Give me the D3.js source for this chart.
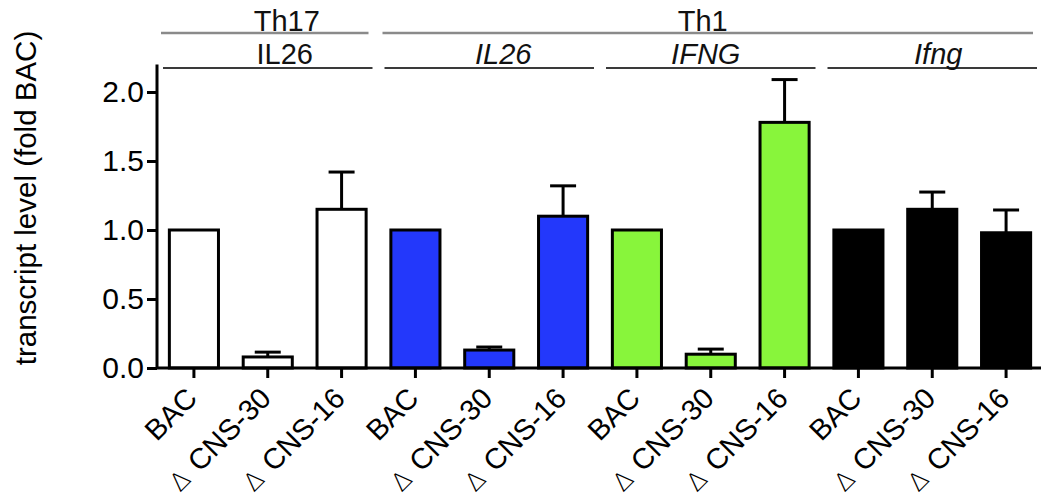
<!DOCTYPE html>
<html>
<head>
<meta charset="utf-8">
<script src="https://cdn.jsdelivr.net/npm/d3@7"></script>
<style>
  html, body { margin: 0; padding: 0; background: #fff; }
  svg { display: block; font-family: "Liberation Sans", Arial, Helvetica, sans-serif; }
</style>
</head>
<body>
<svg id="chart" width="1050" height="500"></svg>
<script>
// ---------------- data ----------------
const conditions = ["BAC", "\u0394 CNS-30", "\u0394 CNS-16"];
const genes = ["IL26", "IL26", "IFNG", "Ifng"];
const geneItalic = [false, true, true, true];
const cellTypes = ["Th17", "Th1"];
const cellTypeGroups = [[0, 0], [1, 3]];           // gene-group index span per cell type
const barColors = ["#ffffff", "#2338fb", "#88f53b", "#000000"];
const values = [1.00, 0.08, 1.15,  1.00, 0.13, 1.10,  1.00, 0.10, 1.78,  1.00, 1.15, 0.98];
const errUpper = [1.00, 0.115, 1.42, 1.00, 0.152, 1.32, 1.00, 0.137, 2.09, 1.00, 1.275, 1.145];
const yTicks = [0.0, 0.5, 1.0, 1.5, 2.0];
const yTitle = "transcript level (fold BAC)";

// ---------------- layout ----------------
const svg = d3.select("#chart");
const plotLeft = 157, plotRight = 1043, plotTop = 64.4, plotBottom = 368;
const tickFont = 30, xFont = 29, headFont = 29, titleFont = 29.5;

const bars = values.map((v, i) => ({
  key: "b" + i,
  label: conditions[i % 3],
  group: Math.floor(i / 3),
  value: v,
  err: errUpper[i]
}));

const x = d3.scaleBand()
  .domain(bars.map(d => d.key))
  .range([plotLeft, plotRight])
  .paddingInner(0.335)
  .paddingOuter(0.1675);

const y = d3.scaleLinear().domain([0, 2.2]).range([plotBottom, plotTop]);

// bars
svg.append("g").selectAll("rect").data(bars).join("rect")
  .attr("x", d => x(d.key))
  .attr("y", d => y(d.value))
  .attr("width", x.bandwidth())
  .attr("height", d => y(0) - y(d.value))
  .attr("fill", d => barColors[d.group])
  .attr("stroke", "#000")
  .attr("stroke-width", 3);

// error bars (upper only)
const eb = svg.append("g").selectAll("g").data(bars.filter(d => d.err > d.value)).join("g");
eb.append("line")
  .attr("x1", d => x(d.key) + x.bandwidth() / 2)
  .attr("x2", d => x(d.key) + x.bandwidth() / 2)
  .attr("y1", d => y(d.value))
  .attr("y2", d => y(d.err))
  .attr("stroke", "#000").attr("stroke-width", 3);
eb.append("line")
  .attr("x1", d => x(d.key) + x.bandwidth() / 2 - 13)
  .attr("x2", d => x(d.key) + x.bandwidth() / 2 + 13)
  .attr("y1", d => y(d.err))
  .attr("y2", d => y(d.err))
  .attr("stroke", "#000").attr("stroke-width", 3);

// y axis
const yAxis = svg.append("g")
  .attr("transform", `translate(${plotLeft},0)`)
  .call(d3.axisLeft(y).tickValues(yTicks).tickFormat(d3.format(".1f")).tickSize(10).tickPadding(3));
yAxis.select(".domain").attr("d", `M0,${plotTop}V${plotBottom}`).attr("stroke", "#000").attr("stroke-width", 3);
yAxis.selectAll(".tick line").attr("stroke", "#000").attr("stroke-width", 3);
yAxis.selectAll(".tick text")
  .attr("font-size", tickFont)
  .attr("font-family", "Liberation Sans, Arial, sans-serif")
  .attr("fill", "#000");

// x axis
const xAxis = svg.append("g")
  .attr("transform", `translate(0,${plotBottom})`)
  .call(d3.axisBottom(x).tickSize(10).tickFormat(k => bars.find(b => b.key === k).label));
xAxis.select(".domain").attr("d", `M${plotLeft},0H${plotRight - 2}`).attr("stroke", "#000").attr("stroke-width", 3);
xAxis.selectAll(".tick line").attr("stroke", "#000").attr("stroke-width", 3);
xAxis.selectAll(".tick text")
  .attr("font-size", xFont)
  .attr("font-family", "Liberation Sans, Arial, sans-serif")
  .attr("fill", "#000")
  .attr("text-anchor", "end")
  .attr("dy", null)
  .attr("y", 0)
  .attr("transform", "translate(5,32) rotate(-45)")
  .each(function () {
    const t = d3.select(this);
    const s = t.text();
    if (s.startsWith("\u0394")) {
      t.text(null);
      t.append("tspan").attr("font-size", 25).attr("font-family", "DejaVu Sans, sans-serif")
        .attr("font-weight", 200).text("\u2206");
      t.append("tspan").attr("dx", 3).text(s.slice(1));
    }
  });

// y title
svg.append("text")
  .attr("transform", `translate(36,198) rotate(-90)`)
  .attr("text-anchor", "middle")
  .attr("font-size", titleFont)
  .attr("fill", "#000")
  .text(yTitle);

// header: gene groups
const groupSpan = g => [x(bars[g * 3].key) - (x.step() - x.bandwidth()) / 2,
                        x(bars[g * 3 + 2].key) + x.bandwidth() + (x.step() - x.bandwidth()) / 2];
const geneNudge = [17, 14, -5, 6];
genes.forEach((name, g) => {
  const [a, b] = groupSpan(g);
  svg.append("line")
    .attr("x1", a + 6).attr("x2", b - 6)
    .attr("y1", 68).attr("y2", 68)
    .attr("stroke", "#3a3a3a").attr("stroke-width", 2);
  svg.append("text")
    .attr("x", (a + b) / 2 + geneNudge[g]).attr("y", 64)
    .attr("text-anchor", "middle")
    .attr("font-size", headFont)
    .attr("font-style", geneItalic[g] ? "italic" : "normal")
    .attr("fill", "#111")
    .text(name);
});

// header: cell types
const cellNudge = [19, -8];
cellTypes.forEach((name, c) => {
  const a = groupSpan(cellTypeGroups[c][0])[0];
  const b = groupSpan(cellTypeGroups[c][1])[1];
  svg.append("line")
    .attr("x1", a + 4).attr("x2", b - 10)
    .attr("y1", 33).attr("y2", 33)
    .attr("stroke", "#8a8a8a").attr("stroke-width", 2.5);
  svg.append("text")
    .attr("x", (a + b) / 2 + cellNudge[c]).attr("y", 31)
    .attr("text-anchor", "middle")
    .attr("font-size", headFont)
    .attr("fill", "#111")
    .text(name);
});
</script>
</body>
</html>
